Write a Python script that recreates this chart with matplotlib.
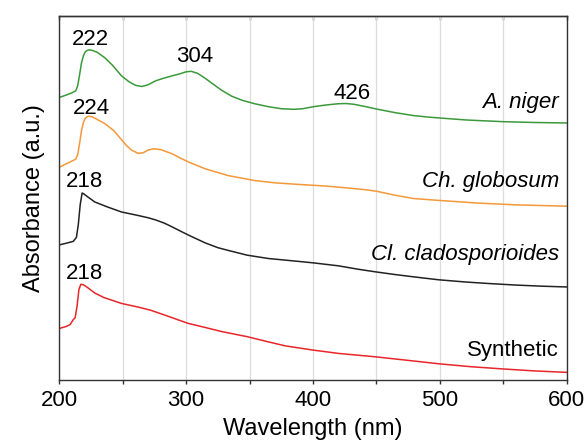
import numpy as np
import matplotlib
matplotlib.use("Agg")
import matplotlib.pyplot as plt
from matplotlib.ticker import MultipleLocator

plt.rcParams['font.family'] = ['Liberation Sans', 'DejaVu Sans']

# UV-vis spectra (offset, arbitrary units)
wl_niger = [200, 205, 210, 213, 214.5, 216, 217.5, 219, 220.5, 222, 224, 226, 230, 236, 242, 249,
            255, 260, 265, 270, 276, 282, 289, 295, 300, 304, 309, 315, 322, 328, 336, 344, 354,
            365, 375, 385, 392, 400, 410, 420, 426, 432, 440, 450, 465, 479, 490, 500, 521, 550,
            575, 600]
abs_niger = [2.833, 2.855, 2.88, 2.90, 2.95, 3.06, 3.18, 3.25, 3.29, 3.305, 3.31, 3.305, 3.285,
             3.23, 3.155, 3.05, 2.99, 2.955, 2.943, 2.96, 3.00, 3.025, 3.05, 3.07, 3.09, 3.095,
             3.075, 3.025, 2.96, 2.905, 2.845, 2.805, 2.77, 2.74, 2.72, 2.714, 2.72, 2.74, 2.757,
             2.77, 2.772, 2.765, 2.745, 2.717, 2.68, 2.652, 2.637, 2.627, 2.607, 2.59, 2.582, 2.577]

wl_glob = [200, 205, 210, 213, 214.5, 216, 217.5, 219, 220.5, 222, 224, 226, 228, 236, 243, 249,
           253, 257, 262, 266, 270, 274, 280, 289, 295, 302, 315, 333, 354, 370, 390, 410, 426,
           440, 450, 465, 479, 500, 530, 560, 600]
abs_glob = [2.133, 2.165, 2.195, 2.215, 2.26, 2.37, 2.50, 2.58, 2.625, 2.64, 2.645, 2.638, 2.625,
            2.57, 2.50, 2.41, 2.35, 2.305, 2.273, 2.278, 2.305, 2.318, 2.31, 2.268, 2.228, 2.185,
            2.118, 2.05, 2.00, 1.977, 1.96, 1.945, 1.927, 1.91, 1.893, 1.852, 1.82, 1.80, 1.774,
            1.756, 1.743]

wl_clad = [200, 205, 211, 213.5, 215, 216.5, 218, 219.5, 222, 228, 238, 249, 262, 270, 276, 283,
           289, 296, 302, 315, 325, 333, 348, 365, 380, 400, 420, 435, 449, 465, 479, 499, 520,
           538, 560, 580, 600]
abs_clad = [1.355, 1.37, 1.39, 1.43, 1.56, 1.76, 1.875, 1.865, 1.84, 1.785, 1.735, 1.685, 1.65,
            1.627, 1.605, 1.572, 1.535, 1.49, 1.452, 1.375, 1.327, 1.30, 1.252, 1.218, 1.20,
            1.175, 1.145, 1.112, 1.085, 1.057, 1.035, 1.005, 0.983, 0.968, 0.952, 0.941, 0.933]

wl_syn = [200, 205, 208.5, 211, 212.5, 214, 215.5, 217, 219, 222, 228, 235, 249, 262, 272, 285,
          301, 315, 328, 348, 365, 378, 399, 420, 449, 475, 499, 525, 550, 575, 600]
abs_syn = [0.517, 0.535, 0.555, 0.605, 0.625, 0.74, 0.91, 0.96, 0.955, 0.93, 0.872, 0.828, 0.768,
           0.732, 0.70, 0.643, 0.57, 0.527, 0.486, 0.435, 0.382, 0.343, 0.302, 0.267, 0.233,
           0.197, 0.163, 0.133, 0.111, 0.091, 0.077]

names = ["A. niger", "Ch. globosum", "Cl. cladosporioides", "Synthetic"]
name_y = [2.73, 1.94, 1.20, 0.24]
peak_labels = ["222", "304", "426", "224", "218", "218"]
peak_x = [224.5, 306.5, 430.4, 225.2, 219.7, 219.7]
peak_y = [3.36, 3.193, 2.817, 2.667, 1.933, 1.017]

fig = plt.figure(figsize=(5.87, 4.45), dpi=100)
ax = fig.add_axes([0.101, 0.146, 0.8645, 0.817])

ax.plot(wl_niger, abs_niger, color='#3a9a3a', lw=1.1)
ax.plot(wl_glob, abs_glob, color='#f5983a', lw=1.1)
ax.plot(wl_clad, abs_clad, color='#222222', lw=1.1)
ax.plot(wl_syn, abs_syn, color='#e8262a', lw=1.1)

ax.set_xlim(200, 600)
ax.set_ylim(0, 3.645)
ax.xaxis.set_major_locator(MultipleLocator(100))
ax.xaxis.set_minor_locator(MultipleLocator(50))
ax.grid(True, which='both', axis='x', color='#dcdcdc', lw=0.9)
ax.set_axisbelow(True)
ax.set_yticks([])
ax.tick_params(axis='x', which='both', direction='out', length=3, width=1, labelsize=16,
               pad=4, color='#333333')

# top ticks point inward
top = ax.secondary_xaxis('top')
top.xaxis.set_major_locator(MultipleLocator(50))
top.tick_params(direction='in', length=3, width=1, labeltop=False, color='#333333')
top.spines['top'].set_color('#333333')
top.spines['top'].set_linewidth(1.0)

for sp in ax.spines.values():
    sp.set_color('#333333')
    sp.set_linewidth(1.0)

ax.set_xlabel("Wavelength (nm)", fontsize=17, labelpad=5)
ax.set_ylabel("Absorbance (a.u.)", fontsize=17, labelpad=10)

for lab, xx, yy in zip(peak_labels, peak_x, peak_y):
    ax.text(xx, yy, lab, fontsize=16, ha='center', va='baseline')

for i, nm in enumerate(names):
    style = 'normal' if nm == "Synthetic" else 'italic'
    ax.text(593.7, name_y[i], nm, fontsize=16, ha='right', va='baseline', style=style)

fig.savefig("out.png", dpi=100)
